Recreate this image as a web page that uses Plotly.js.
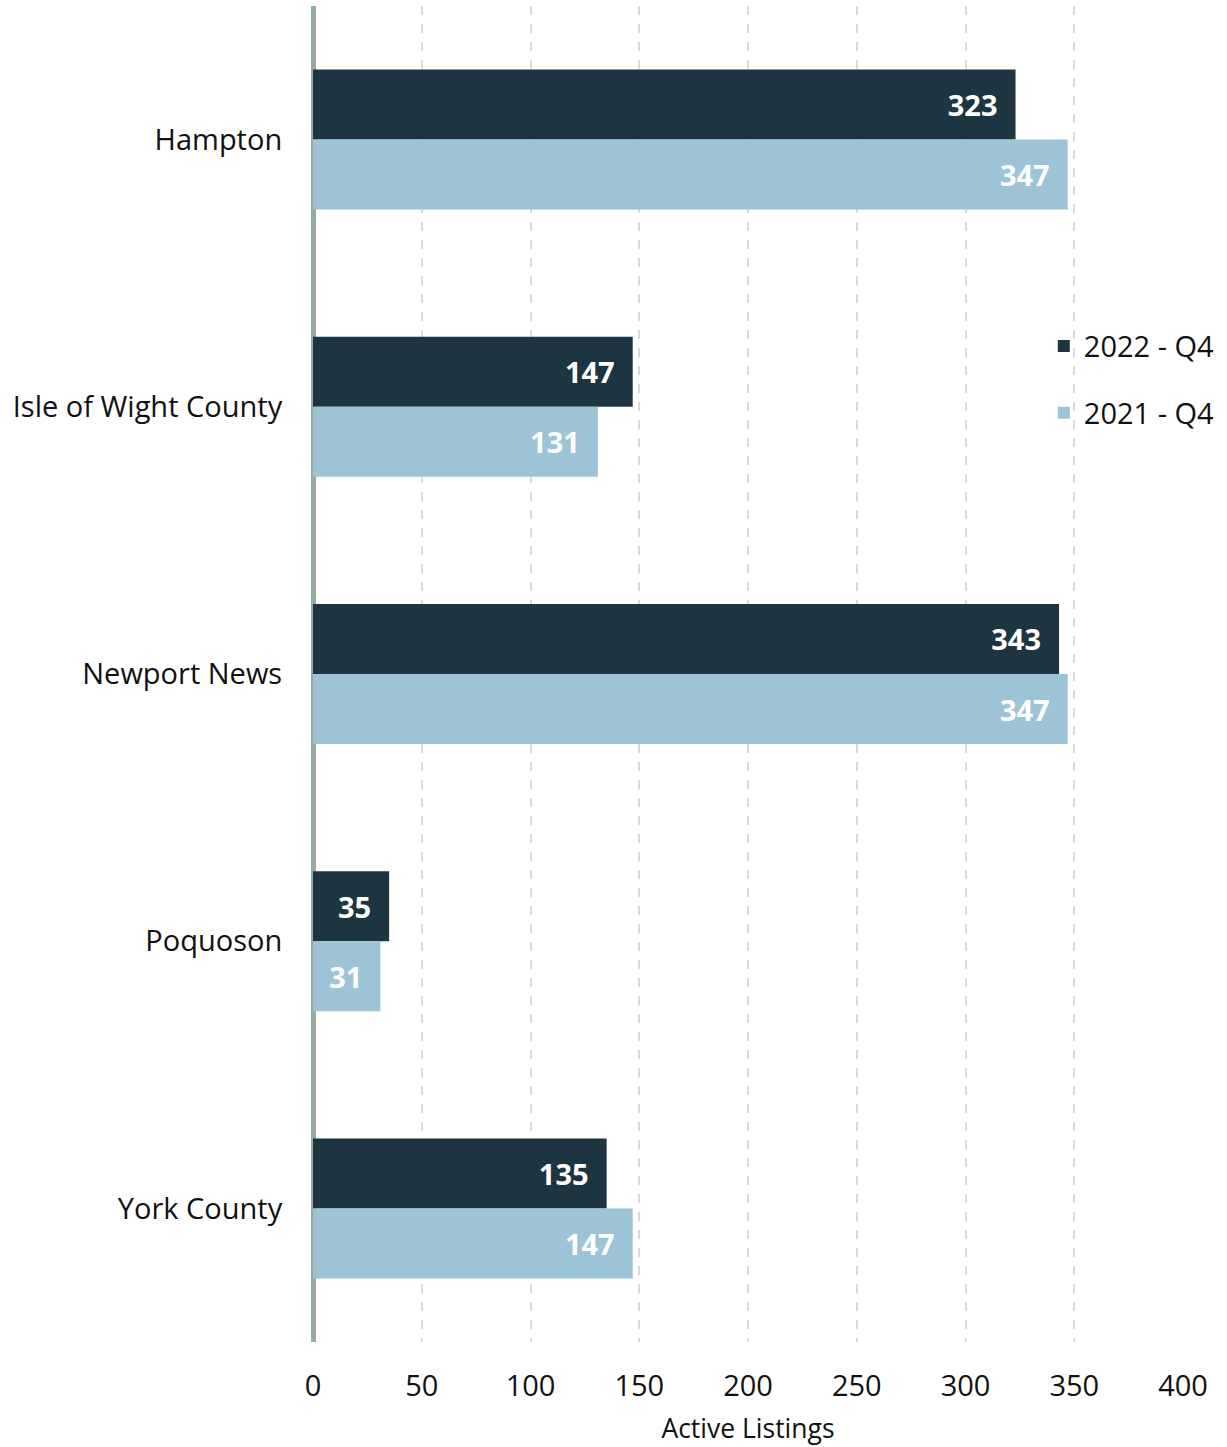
<!DOCTYPE html>
<html>
<head>
<meta charset="utf-8">
<script src="https://cdn.plot.ly/plotly-3.0.1.min.js"></script>
<style>html,body{margin:0;padding:0;background:#fff;}#chart{width:1227px;height:1447px;}</style>
</head>
<body>
<div id="chart"></div>
<script>
const categories = ["Hampton", "Isle of Wight County", "Newport News", "Poquoson", "York County"];
const q4_2022 = [323, 147, 343, 35, 135];
const q4_2021 = [347, 131, 347, 31, 147];
const seriesNames = ["2022 - Q4", "2021 - Q4"];
const xTicks = [0, 50, 100, 150, 200, 250, 300, 350, 400];

const pad = s => String(s) + "\u00a0\u00a0";

const traces = [
  {type: "bar", orientation: "h", name: seriesNames[0], y: categories, x: q4_2022,
   marker: {color: "#1d3441"}, text: q4_2022.map(pad), textposition: "inside",
   insidetextanchor: "end", textfont: {color: "#ffffff", size: 29, family: "Open Sans", weight: "bold"},
   legendgroup: "a", hoverinfo: "x+y"},
  {type: "bar", orientation: "h", name: seriesNames[1], y: categories, x: q4_2021,
   marker: {color: "#9dc4d6"}, text: q4_2021.map(pad), textposition: "inside",
   insidetextanchor: "end", textfont: {color: "#ffffff", size: 29, family: "Open Sans", weight: "bold"},
   legendgroup: "b", hoverinfo: "x+y"}
];

const layout = {
  width: 1227, height: 1447,
  margin: {l: 313, r: 44, t: 6, b: 105},
  paper_bgcolor: "#ffffff", plot_bgcolor: "#ffffff",
  font: {family: "Open Sans", size: 29, color: "#111111"},
  barmode: "group", bargap: 0.476, bargroupgap: 0,
  xaxis: {
    range: [0, 400], tickvals: xTicks, ticktext: xTicks.map(String),
    showgrid: true, gridcolor: "#d9d9d9", gridwidth: 2, griddash: "dash",
    zeroline: true, zerolinecolor: "#94ad9f", zerolinewidth: 5,
    showline: false, ticks: "outside", ticklen: 18, tickcolor: "rgba(0,0,0,0)",
    tickfont: {size: 29, color: "#111111"},
    title: {text: "Active Listings", font: {size: 26.5, color: "#111111"}, standoff: 16},
    automargin: false, fixedrange: true
  },
  yaxis: {
    autorange: "reversed", showgrid: false, zeroline: false, showline: false,
    ticks: "outside", ticklen: 24, tickcolor: "rgba(0,0,0,0)",
    tickfont: {size: 29, color: "#111111"}, automargin: false, fixedrange: true
  },
  legend: {
    x: 0.840, xanchor: "left", y: 0.7645, yanchor: "top",
    bgcolor: "rgba(0,0,0,0)", traceorder: "grouped", tracegroupgap: 26,
    font: {size: 29, color: "#111111"}
  },
  showlegend: true
};

Plotly.newPlot("chart", traces, layout, {displayModeBar: false, staticPlot: true});
</script>
</body>
</html>
